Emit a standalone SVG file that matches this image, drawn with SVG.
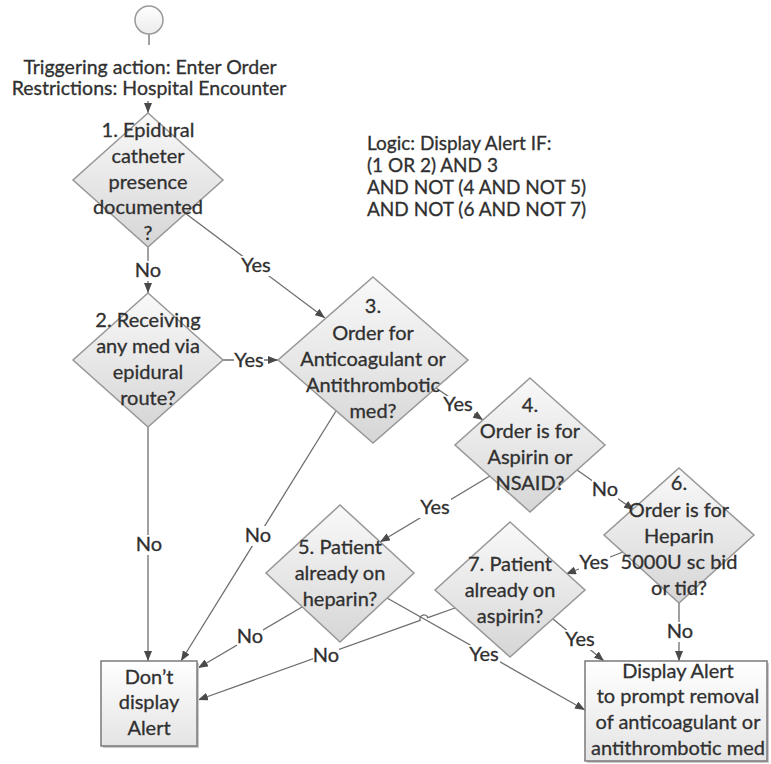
<svg xmlns="http://www.w3.org/2000/svg" width="771" height="764" viewBox="0 0 771 764">
<style>
  text { font-family: Lato, "Liberation Sans", sans-serif; font-size: 20px; fill: #303030; stroke: #303030; stroke-width: 0.3; }
  .c { text-anchor: middle; }
  .t19 { font-size: 19.5px; }
  .lg { font-size: 19px; }
  .dia { fill: url(#gDia); stroke: #979797; stroke-width: 1.5; }
  .box { fill: url(#gBox); stroke: #7a7a7a; stroke-width: 1.5; }
  .shadow { fill: #c9c9c9; }
  .ln { fill: none; stroke: #6e6e6e; stroke-width: 1.3; }
  .arr { marker-end: url(#ah); }
  .bg { fill: #ffffff; }
</style>
<defs>
  <linearGradient id="gDia" x1="0" y1="0" x2="0" y2="1">
    <stop offset="0" stop-color="#f9f9f9"/>
    <stop offset="1" stop-color="#d6d6d6"/>
  </linearGradient>
  <linearGradient id="gBox" x1="0" y1="0" x2="0" y2="1">
    <stop offset="0" stop-color="#ffffff"/>
    <stop offset="1" stop-color="#e4e4e4"/>
  </linearGradient>
  <linearGradient id="gCirc" x1="0" y1="0" x2="0" y2="1">
    <stop offset="0" stop-color="#ffffff"/>
    <stop offset="1" stop-color="#ececec"/>
  </linearGradient>
  <marker id="ah" markerUnits="userSpaceOnUse" markerWidth="10" markerHeight="8" refX="10" refY="4" orient="auto">
    <path d="M0,0 L10,4 L0,8 z" fill="#4a4a4a"/>
  </marker>
</defs>

<g id="connectors">
  <line class="ln" x1="149" y1="34" x2="149" y2="45"/>
  <line class="ln arr" x1="148" y1="101" x2="148" y2="113"/>
  <!-- 1 -> 2 No -->
  <line class="ln arr" x1="148" y1="247" x2="148" y2="293"/>
  <!-- 1 -> 3 Yes -->
  <line class="ln arr" x1="185" y1="213" x2="325" y2="318"/>
  <!-- 2 -> 3 Yes -->
  <line class="ln arr" x1="223" y1="360" x2="278" y2="360"/>
  <!-- 2 -> Don't No -->
  <line class="ln arr" x1="148" y1="427" x2="148" y2="661"/>
  <!-- 3 -> Don't No -->
  <line class="ln arr" x1="336" y1="411" x2="181" y2="661"/>
  <!-- 3 -> 4 Yes -->
  <line class="ln arr" x1="436" y1="388" x2="483" y2="420"/>
  <!-- 4 -> 5 Yes -->
  <line class="ln arr" x1="490" y1="476" x2="380" y2="542"/>
  <!-- 4 -> 6 No -->
  <line class="ln arr" x1="577" y1="470" x2="634" y2="510"/>
  <!-- 6 -> 7 Yes -->
  <line class="ln arr" x1="623" y1="552" x2="566" y2="574"/>
  <!-- 5 -> Don't No -->
  <line class="ln arr" x1="302" y1="607" x2="198" y2="668"/>
  <!-- 5 -> Display Yes -->
  <line class="ln arr" x1="387" y1="598" x2="585" y2="710"/>
  <!-- 7 -> Don't No (with hop) -->
  <path class="ln arr" d="M455,608 L427.8,617.7 A4,4 0 0 0 420.2,620.3 L198,700"/>
  <!-- 7 -> Display Yes -->
  <line class="ln arr" x1="553" y1="619" x2="604" y2="661"/>
  <!-- 6 -> Display No -->
  <line class="ln arr" x1="679" y1="603" x2="679" y2="661"/>

  <!-- labels -->
  <rect class="bg" x="135" y="261" width="26" height="20"/>
  <text class="c" x="148" y="277">No</text>
  <rect class="bg" x="240" y="256" width="32" height="20"/>
  <text class="c" x="256" y="272">Yes</text>
  <rect class="bg" x="234" y="351" width="30" height="20"/>
  <text class="c" x="249" y="367">Yes</text>
  <rect class="bg" x="136" y="535" width="26" height="20"/>
  <text class="c" x="149" y="551">No</text>
  <rect class="bg" x="245" y="526" width="26" height="20"/>
  <text class="c" x="258" y="542">No</text>
  <rect class="bg" x="443" y="396" width="31" height="19"/>
  <text class="c" x="458" y="411">Yes</text>
  <rect class="bg" x="419" y="498" width="32" height="20"/>
  <text class="c" x="435" y="514">Yes</text>
  <rect class="bg" x="592" y="480" width="26" height="20"/>
  <text class="c" x="605" y="496">No</text>
  <rect class="bg" x="579" y="553" width="31" height="19"/>
  <text class="c" x="594" y="569">Yes</text>
  <rect class="bg" x="237" y="627" width="26" height="20"/>
  <text class="c" x="250" y="643">No</text>
  <rect class="bg" x="313" y="646" width="26" height="20"/>
  <text class="c" x="326" y="662">No</text>
  <rect class="bg" x="468" y="645" width="32" height="20"/>
  <text class="c" x="484" y="661">Yes</text>
  <rect class="bg" x="565" y="630" width="31" height="20"/>
  <text class="c" x="580" y="646">Yes</text>
  <rect class="bg" x="667" y="622" width="26" height="20"/>
  <text class="c" x="680" y="638">No</text>
</g>

<g id="start">
  <circle cx="149" cy="20" r="14" fill="url(#gCirc)" stroke="#9a9a9a" stroke-width="1.5"/>
</g>

<g id="trigger">
  <text class="c t19" x="150" y="74">Triggering action: Enter Order</text>
  <text class="c t19" x="149" y="95">Restrictions: Hospital Encounter</text>
</g>

<g id="logic">
  <text class="lg" x="367" y="150">Logic: Display Alert IF:</text>
  <text class="lg" x="367" y="172">(1 OR 2) AND 3</text>
  <text class="lg" x="367" y="194">AND NOT (4 AND NOT 5)</text>
  <text class="lg" x="367" y="216">AND NOT (6 AND NOT 7)</text>
</g>

<g id="d1">
  <polygon class="dia" points="148,113 223,180 148,247 73,180"/>
  <text class="c" x="148" y="137">1. Epidural</text>
  <text class="c" x="148" y="163">catheter</text>
  <text class="c" x="148" y="189">presence</text>
  <text class="c" x="148" y="214">documented</text>
  <text class="c" x="148" y="240">?</text>
</g>

<g id="d2">
  <polygon class="dia" points="148,293 223,360 148,427 73,360"/>
  <text class="c" x="148" y="327">2. Receiving</text>
  <text class="c" x="148" y="353">any med via</text>
  <text class="c" x="148" y="379">epidural</text>
  <text class="c" x="148" y="405">route?</text>
</g>

<g id="d3">
  <polygon class="dia" points="373,277 468,360 373,443 278,360"/>
  <text class="c" x="373" y="313">3.</text>
  <text class="c" x="373" y="340">Order for</text>
  <text class="c" x="373" y="366">Anticoagulant or</text>
  <text class="c" x="373" y="392">Antithrombotic</text>
  <text class="c" x="373" y="418">med?</text>
</g>

<g id="d4">
  <polygon class="dia" points="530,378 605,445 530,512 455,445"/>
  <text class="c" x="530" y="412">4.</text>
  <text class="c" x="530" y="438">Order is for</text>
  <text class="c" x="530" y="464">Aspirin or</text>
  <text class="c" x="530" y="490">NSAID?</text>
</g>

<g id="d5">
  <polygon class="dia" points="340,505 414,573 340,642 266,573"/>
  <text class="c" x="340" y="554">5. Patient</text>
  <text class="c" x="340" y="580">already on</text>
  <text class="c" x="340" y="606">heparin?</text>
</g>

<g id="d6">
  <polygon class="dia" points="679,468 754,535 679,603 604,535"/>
  <text class="c" x="679" y="490">6.</text>
  <text class="c" x="679" y="517">Order is for</text>
  <text class="c" x="679" y="543">Heparin</text>
  <text class="c" x="679" y="569">5000U sc bid</text>
  <text class="c" x="679" y="595">or tid?</text>
</g>

<g id="d7">
  <polygon class="dia" points="510,522 585,590 510,657 435,590"/>
  <text class="c" x="510" y="571">7. Patient</text>
  <text class="c" x="510" y="597">already on</text>
  <text class="c" x="510" y="623">aspirin?</text>
</g>

<g id="dont">
  <rect class="shadow" x="103" y="663" width="96" height="85"/>
  <rect class="box" x="101" y="661" width="96" height="85"/>
  <text class="c" x="149" y="684">Don’t</text>
  <text class="c" x="149" y="709">display</text>
  <text class="c" x="149" y="735">Alert</text>
</g>

<g id="display">
  <rect class="shadow" x="587" y="663" width="182" height="100"/>
  <rect class="box" x="585" y="661" width="182" height="100"/>
  <text class="c" x="678" y="678">Display Alert</text>
  <text class="c" x="678" y="703">to prompt removal</text>
  <text class="c" x="678" y="729">of anticoagulant or</text>
  <text class="c" x="678" y="755">antithrombotic med</text>
</g>
</svg>
